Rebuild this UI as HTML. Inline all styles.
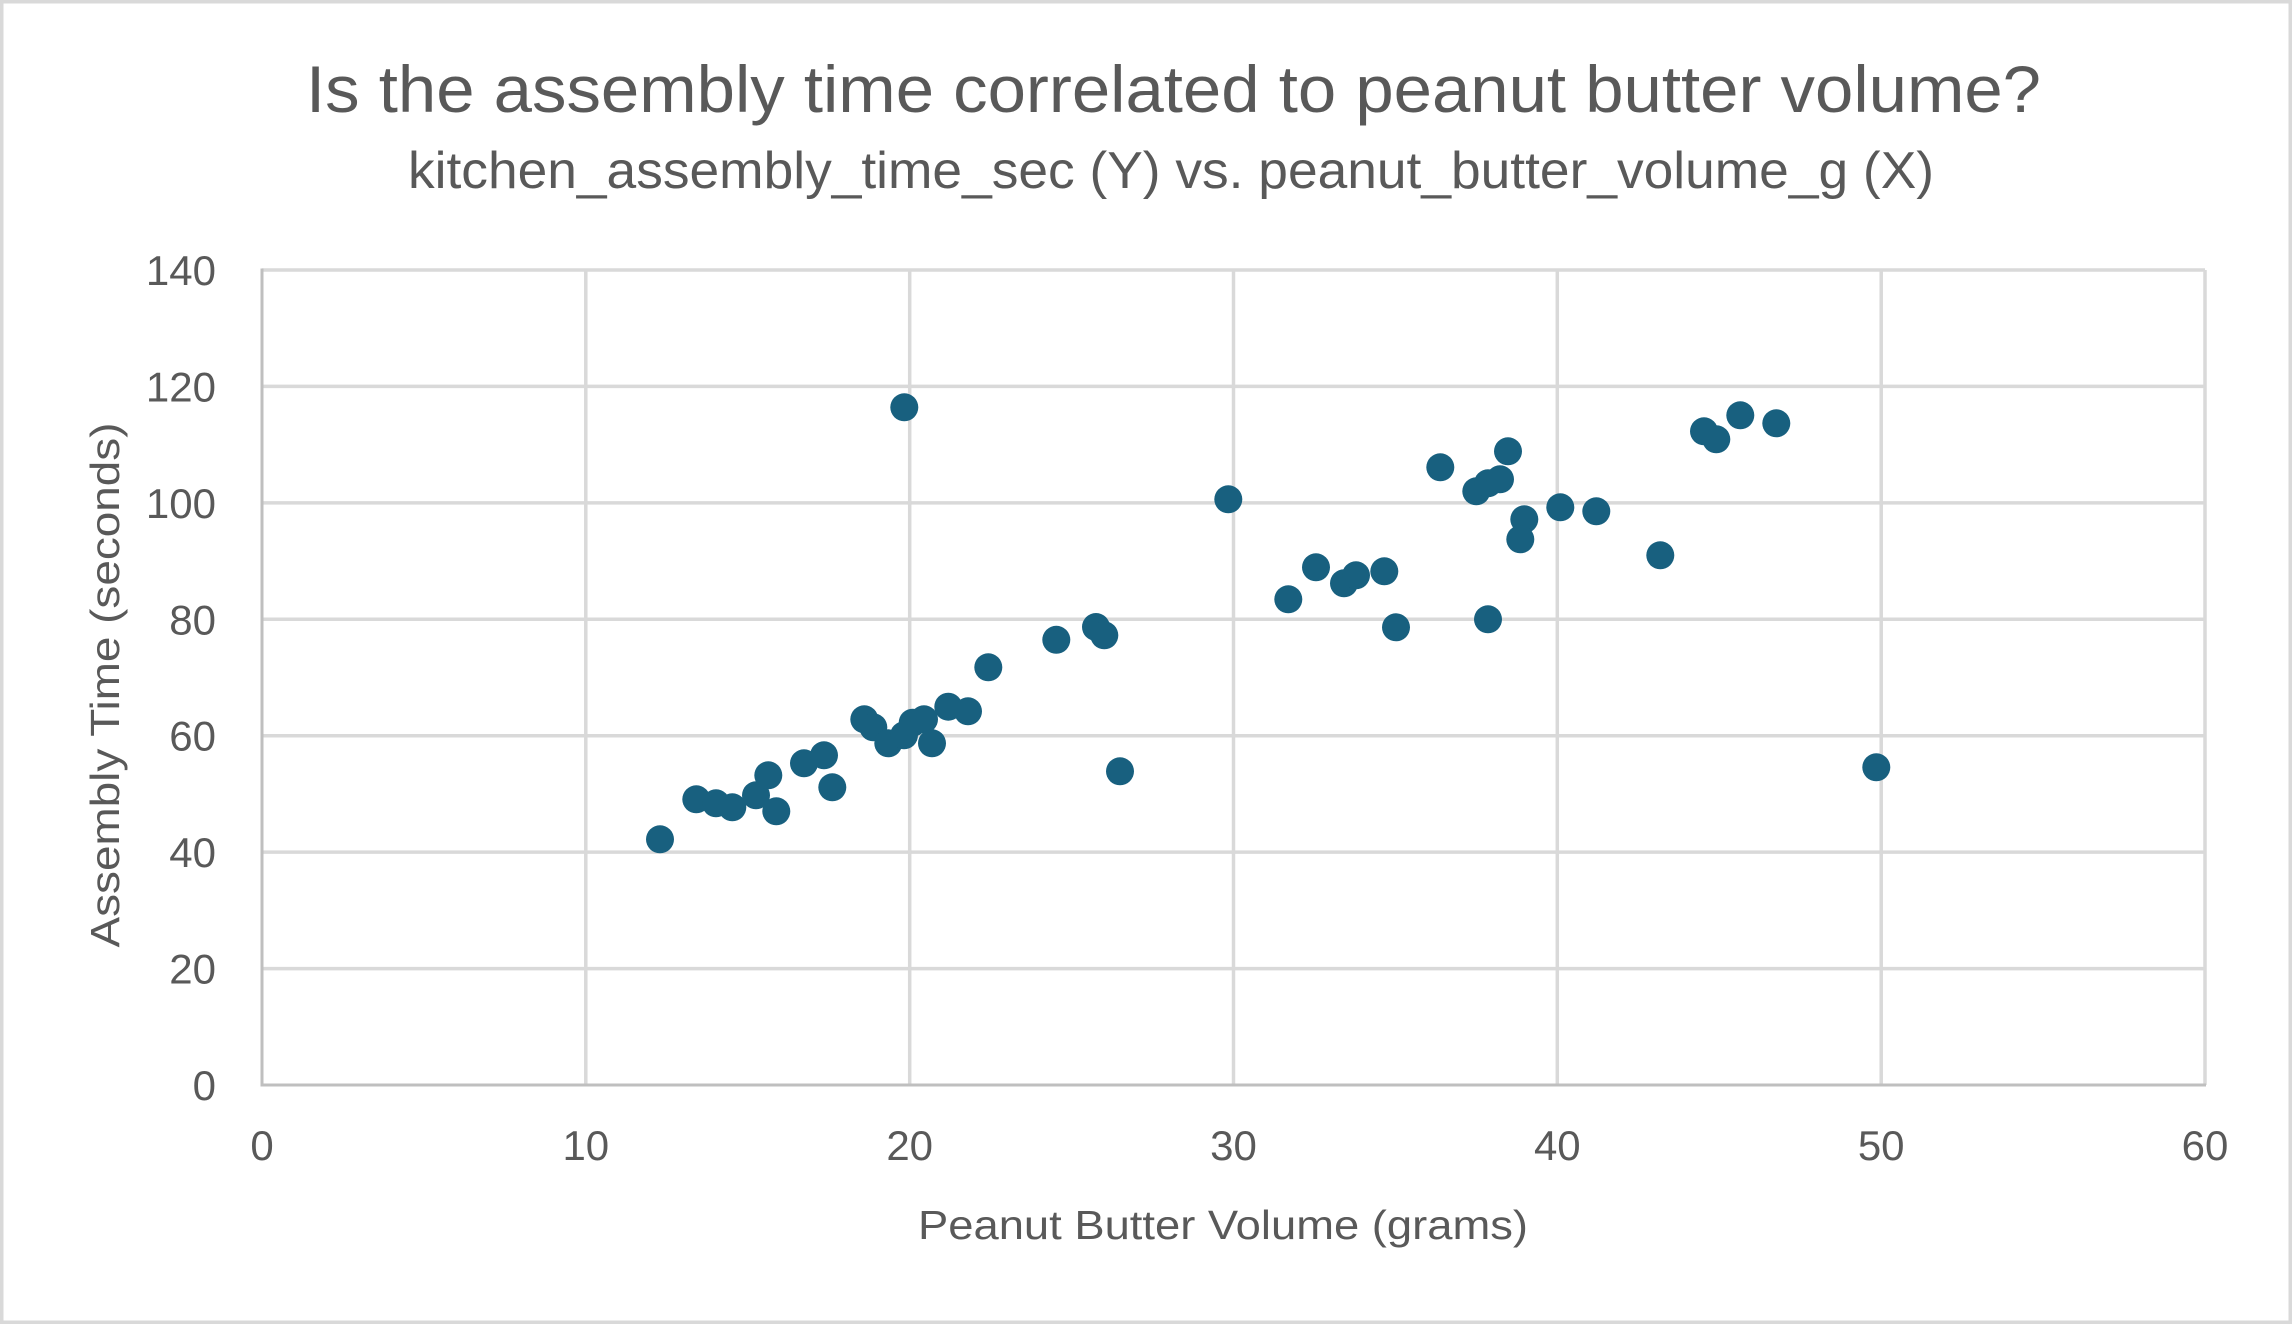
<!DOCTYPE html>
<html>
<head>
<meta charset="utf-8">
<style>
  html, body { margin: 0; padding: 0; background: #ffffff; }
  body { width: 2292px; height: 1324px; overflow: hidden; }
  svg { display: block; }
  text { font-family: "Liberation Sans", "DejaVu Sans", sans-serif; fill: #595959; }
</style>
</head>
<body>
<svg width="2292" height="1324" viewBox="0 0 2292 1324" xmlns="http://www.w3.org/2000/svg">
  <rect x="0" y="0" width="2292" height="1324" fill="#ffffff"/>
  <rect x="1.75" y="1.75" width="2288.5" height="1320.5" fill="none" stroke="#d9d9d9" stroke-width="3.5"/>

  <text x="306" y="112" font-size="66" textLength="1735" lengthAdjust="spacingAndGlyphs">Is the assembly time correlated to peanut butter volume?</text>
  <text x="408" y="188" font-size="52" textLength="1526" lengthAdjust="spacingAndGlyphs">kitchen_assembly_time_sec (Y) vs. peanut_butter_volume_g (X)</text>

  <g stroke="#d9d9d9" stroke-width="3.5">
    <line x1="262" y1="270" x2="2205" y2="270"/>
    <line x1="262" y1="386.4" x2="2205" y2="386.4"/>
    <line x1="262" y1="502.9" x2="2205" y2="502.9"/>
    <line x1="262" y1="619.3" x2="2205" y2="619.3"/>
    <line x1="262" y1="735.7" x2="2205" y2="735.7"/>
    <line x1="262" y1="852.1" x2="2205" y2="852.1"/>
    <line x1="262" y1="968.6" x2="2205" y2="968.6"/>
    <line x1="585.8" y1="270" x2="585.8" y2="1085"/>
    <line x1="909.7" y1="270" x2="909.7" y2="1085"/>
    <line x1="1233.5" y1="270" x2="1233.5" y2="1085"/>
    <line x1="1557.3" y1="270" x2="1557.3" y2="1085"/>
    <line x1="1881.2" y1="270" x2="1881.2" y2="1085"/>
    <line x1="2205" y1="270" x2="2205" y2="1085"/>
  </g>
  <g stroke="#bfbfbf" stroke-width="3">
    <line x1="262" y1="268.5" x2="262" y2="1086.5"/>
    <line x1="260.5" y1="1085" x2="2206" y2="1085"/>
  </g>

  <g font-size="42" text-anchor="end">
    <text x="216" y="285">140</text>
    <text x="216" y="401.4">120</text>
    <text x="216" y="517.9">100</text>
    <text x="216" y="634.3">80</text>
    <text x="216" y="750.7">60</text>
    <text x="216" y="867.1">40</text>
    <text x="216" y="983.6">20</text>
    <text x="216" y="1100">0</text>
  </g>
  <g font-size="42" text-anchor="middle">
    <text x="262" y="1160">0</text>
    <text x="585.8" y="1160">10</text>
    <text x="909.7" y="1160">20</text>
    <text x="1233.5" y="1160">30</text>
    <text x="1557.3" y="1160">40</text>
    <text x="1881.2" y="1160">50</text>
    <text x="2205" y="1160">60</text>
  </g>

  <text x="918" y="1239" font-size="41" textLength="610" lengthAdjust="spacingAndGlyphs">Peanut Butter Volume (grams)</text>
  <text transform="translate(119,685) rotate(-90)" x="0" y="0" font-size="41" text-anchor="middle" textLength="525" lengthAdjust="spacingAndGlyphs">Assembly Time (seconds)</text>

  <g fill="#18607f">
    <circle cx="660" cy="839.3" r="14"/>
    <circle cx="696.3" cy="799.3" r="14"/>
    <circle cx="716" cy="803.3" r="14"/>
    <circle cx="732.3" cy="807.3" r="14"/>
    <circle cx="756" cy="795.3" r="14"/>
    <circle cx="768.3" cy="775.3" r="14"/>
    <circle cx="776.3" cy="811.3" r="14"/>
    <circle cx="804" cy="763.3" r="14"/>
    <circle cx="824" cy="755.3" r="14"/>
    <circle cx="832.3" cy="787.3" r="14"/>
    <circle cx="864.3" cy="719.3" r="14"/>
    <circle cx="873.3" cy="727.3" r="14"/>
    <circle cx="888.3" cy="743.3" r="14"/>
    <circle cx="904" cy="735.3" r="14"/>
    <circle cx="912.7" cy="722.7" r="14"/>
    <circle cx="924" cy="719.3" r="14"/>
    <circle cx="932" cy="743.3" r="14"/>
    <circle cx="948.3" cy="706.7" r="14"/>
    <circle cx="968" cy="711.3" r="14"/>
    <circle cx="988.3" cy="667.3" r="14"/>
    <circle cx="904.3" cy="407.3" r="14"/>
    <circle cx="1056.3" cy="639.8" r="14"/>
    <circle cx="1096" cy="627" r="14"/>
    <circle cx="1104.3" cy="635.3" r="14"/>
    <circle cx="1120" cy="771.3" r="14"/>
    <circle cx="1228.3" cy="499.3" r="14"/>
    <circle cx="1288.3" cy="599.3" r="14"/>
    <circle cx="1316" cy="567.3" r="14"/>
    <circle cx="1344" cy="583.3" r="14"/>
    <circle cx="1356" cy="575.3" r="14"/>
    <circle cx="1384.3" cy="571.3" r="14"/>
    <circle cx="1396" cy="627.3" r="14"/>
    <circle cx="1440.3" cy="467.3" r="14"/>
    <circle cx="1476.3" cy="491.3" r="14"/>
    <circle cx="1488" cy="483.3" r="14"/>
    <circle cx="1500" cy="479.3" r="14"/>
    <circle cx="1508" cy="451.3" r="14"/>
    <circle cx="1488" cy="619.3" r="14"/>
    <circle cx="1524.3" cy="519.3" r="14"/>
    <circle cx="1520.3" cy="539.3" r="14"/>
    <circle cx="1560.3" cy="507.3" r="14"/>
    <circle cx="1596.3" cy="511.3" r="14"/>
    <circle cx="1660.3" cy="555.3" r="14"/>
    <circle cx="1704" cy="431.3" r="14"/>
    <circle cx="1716.3" cy="439.3" r="14"/>
    <circle cx="1740.3" cy="415.3" r="14"/>
    <circle cx="1776.3" cy="423.3" r="14"/>
    <circle cx="1876.3" cy="767.3" r="14"/>
  </g>
</svg>
</body>
</html>
